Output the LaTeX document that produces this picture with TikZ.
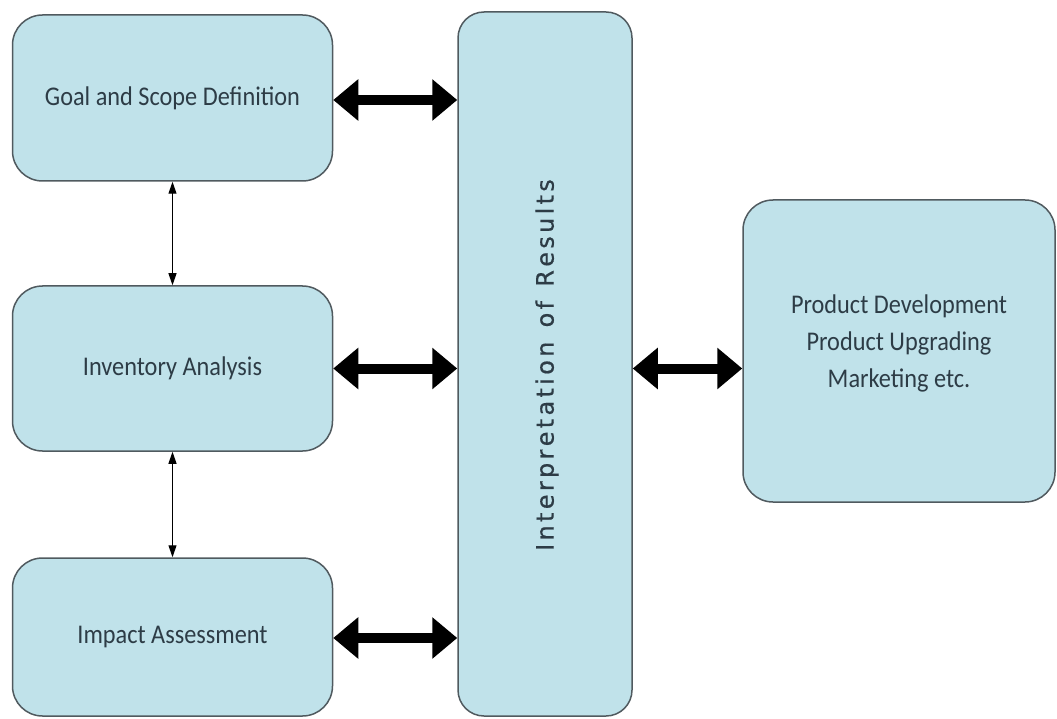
\documentclass[tikz,border=0pt]{standalone}
\usepackage{fontspec}
\setmainfont{Carlito}[FakeStretch=0.9]
\newfontfamily\vertfont{DejaVu Sans}[FakeBold=0.6]
\usetikzlibrary{arrows.meta}
\definecolor{boxfill}{RGB}{192,226,234}
\definecolor{boxline}{RGB}{80,90,95}
\definecolor{boxtext}{RGB}{45,60,70}
% letter spacing for the rotated column title
\newcommand{\ls}{\kern3.3pt}
\tikzset{
  stage/.style={draw=boxline, line width=1.5pt, fill=boxfill, rounded corners=30pt,
    text=boxtext, font=\fontsize{27}{37}\selectfont, align=center, inner sep=0pt},
  bigarrow/.style={line width=10pt, {Triangle[length=25pt,width=40pt]}-{Triangle[length=25pt,width=40pt]}},
  thinarrow/.style={line width=1.2pt, {Triangle[length=12pt,width=8pt]}-{Triangle[length=12pt,width=8pt]}}
}
\begin{document}
\begin{tikzpicture}[x=1pt,y=-1pt]
  \useasboundingbox (0,0) rectangle (1057,719);
  % left column of stages
  \node[stage, minimum width=320pt, minimum height=166pt] (goal) at (172.5,98) {Goal and Scope Definition};
  \node[stage, minimum width=320pt, minimum height=165pt] (inv) at (172.5,368.5) {Inventory Analysis};
  \node[stage, minimum width=320pt, minimum height=158pt] (imp) at (172.5,637) {Impact Assessment};
  % tall interpretation column
  \node[stage, rounded corners=26pt, minimum width=174pt, minimum height=704pt] (interp) at (545,364) {};
  \node[text=boxtext, rotate=90, inner sep=0pt, font=\vertfont\fontsize{24}{28}\selectfont] (interptext) at (547,365)
    {I\ls n\ls t\ls e\ls r\ls p\ls r\ls e\ls t\ls a\ls t\ls i\ls o\ls n\ls{} \ls o\ls f\ls{} \ls R\ls e\ls s\ls u\ls l\ls t\ls s};
  % applications box
  \node[stage, minimum width=312pt, minimum height=302pt] (app) at (899,351) {};
  \node[text=boxtext, font=\fontsize{27}{37}\selectfont, align=center] (apptext) at (899,343)
    {Product Development\\Product Upgrading\\Marketing etc.};
  % connectors
  \draw[bigarrow] (goal.east |- 0,100) -- (interp.west |- 0,100);
  \draw[bigarrow] (inv.east) -- (interp.west |- inv.east);
  \draw[bigarrow] (imp.east |- 0,638) -- (interp.west |- 0,638);
  \draw[bigarrow] (interp.east |- inv.east) -- (app.west |- inv.east);
  \draw[thinarrow] (goal.south) -- (inv.north);
  \draw[thinarrow] (inv.south) -- (imp.north);
\end{tikzpicture}
\end{document}
